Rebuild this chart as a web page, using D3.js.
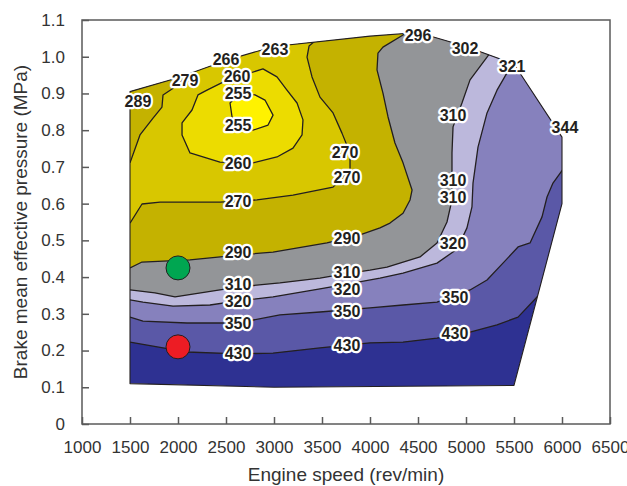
<!DOCTYPE html>
<html><head><meta charset="utf-8">
<script src="https://cdn.jsdelivr.net/npm/d3@7/dist/d3.min.js"></script>
<style>body{margin:0;background:#fff}svg{display:block}</style>
</head><body><svg id="c" width="627" height="486"></svg>
<script>
// ---- data ----
const xTicks = [1000,1500,2000,2500,3000,3500,4000,4500,5000,5500,6000,6500];
const yTicks = [0,0.1,0.2,0.3,0.4,0.5,0.6,0.7,0.8,0.9,1.0,1.1];
const yTickLabels = ["0","0.1","0.2","0.3","0.4","0.5","0.6","0.7","0.8","0.9","1.0","1.1"];

// operating envelope (engine speed rev/min, BMEP MPa)
const envelope = [[1500,0.905],[2000,0.943],[2500,0.99],[3000,1.028],[4000,1.056],[4500,1.066],[5000,1.028],[5500,0.98],[6000,0.781],[6000,0.6],[5500,0.105],[3000,0.1],[1500,0.11]];

// BSFC contour lines (g/kWh)
const c430 = [[1500,0.223],[1844,0.207],[2094,0.196],[2625,0.191],[2990,0.193],[3479,0.207],[4000,0.221],[4344,0.223],[4698,0.234],[5042,0.25],[5323,0.27],[5542,0.291],[5745,0.347],[5780,0.352]];
const c350 = [[1500,0.291],[1635,0.28],[2094,0.275],[2625,0.275],[3062,0.297],[3479,0.305],[4000,0.316],[4344,0.324],[4698,0.332],[5042,0.365],[5219,0.392],[5385,0.438],[5542,0.482],[5667,0.493],[5792,0.564],[5844,0.618],[5906,0.656],[6020,0.697]];
const c320 = [[1500,0.338],[1635,0.332],[1948,0.321],[2333,0.324],[2625,0.335],[2990,0.346],[3479,0.368],[3760,0.381],[4104,0.397],[4344,0.411],[4698,0.438],[4906,0.476],[5010,0.534],[5062,0.591],[5073,0.656],[5125,0.754],[5219,0.847],[5323,0.909],[5427,0.956],[5465,0.995]];
const c310 = [[1500,0.365],[1760,0.357],[1969,0.346],[2437,0.365],[2625,0.373],[3062,0.384],[3479,0.397],[3719,0.408],[4000,0.419],[4177,0.427],[4521,0.455],[4698,0.493],[4802,0.55],[4854,0.61],[4854,0.672],[4854,0.738],[4865,0.809],[4958,0.874],[5042,0.937],[5250,1.01],[5275,1.022]];
const c290 = [[1500,0.425],[1625,0.441],[2125,0.447],[2625,0.46],[2990,0.468],[3552,0.493],[3896,0.515],[4104,0.534],[4208,0.547],[4344,0.574],[4417,0.61],[4438,0.637],[4344,0.711],[4260,0.765],[4188,0.836],[4135,0.901],[4073,0.964],[4083,1.01],[4135,1.026],[4344,1.059],[4375,1.072]];
const c270main = [[1500,0.547],[1625,0.599],[1813,0.604],[2437,0.604],[2823,0.61],[3198,0.623],[3615,0.645],[3792,0.692],[3792,0.738],[3708,0.792],[3615,0.847],[3479,0.89],[3396,0.945],[3344,0.999],[3365,1.029],[3460,1.05]];
const c270corner = [[1500,0.711],[1604,0.787],[1740,0.833],[1833,0.863],[1844,0.896],[1938,0.912],[2210,0.975]];
const c260 = [[2625,0.945],[2885,0.967],[3031,0.945],[3135,0.909],[3240,0.874],[3302,0.828],[3292,0.787],[3198,0.751],[3031,0.727],[2781,0.711],[2625,0.711],[2437,0.713],[2125,0.738],[2042,0.787],[2042,0.82],[2146,0.855],[2208,0.896],[2302,0.909],[2469,0.931]];
const c255 = [[2542,0.874],[2646,0.901],[2802,0.896],[2906,0.882],[2990,0.841],[2938,0.814],[2781,0.80],[2646,0.806],[2563,0.836]];

// contour labels: [speed, bmep, text]
const lineLabels = [
  [2625,0.901,"255"],[2625,0.814,"255"],
  [2615,0.947,"260"],[2625,0.711,"260"],
  [2625,0.607,"270"],[3740,0.741,"270"],[3760,0.672,"270"],
  [2625,0.468,"290"],[3760,0.506,"290"],
  [2625,0.381,"310"],[3760,0.414,"310"],[4865,0.841,"310"],[4865,0.664,"310"],[4865,0.618,"310"],
  [2625,0.334,"320"],[3760,0.368,"320"],[4865,0.493,"320"],
  [2625,0.275,"350"],[3760,0.308,"350"],[4885,0.346,"350"],
  [2625,0.193,"430"],[3760,0.215,"430"],[4885,0.248,"430"]
];
// full-load values along the envelope
const edgeLabels = [
  [1583,0.879,"289"],[2073,0.937,"279"],[2500,0.994,"266"],[3010,1.021,"263"],
  [4500,1.059,"296"],[4990,1.024,"302"],[5479,0.975,"321"],[6031,0.809,"344"]
];
// marked operating points
const points = [[2000,0.425,"#00a651"],[2000,0.21,"#ed1c24"]];

// ---- drawing ----
const FONT = "Liberation Sans, Arial, Helvetica, sans-serif";
const svg = d3.select("#c");
const x = d3.scaleLinear().domain([1000,6500]).range([82,610]);
const y = d3.scaleLinear().domain([0,1.1]).range([424,20]);
const line = d3.line().x(d=>x(d[0])).y(d=>y(d[1]));
const TOP = 1.6, LEFT = 1000, RIGHT = 6700;

svg.append("defs").append("clipPath").attr("id","env")
  .append("path").attr("d", line(envelope)+"Z");

// region on the low-consumption side of a contour line
function regionAbove(c){
  const last = c[c.length-1];
  return [[LEFT,c[0][1]], ...c, [RIGHT,last[1]], [RIGHT,TOP], [LEFT,TOP]];
}

const fills = svg.append("g").attr("clip-path","url(#env)");
fills.append("path").attr("d", line(envelope)+"Z").attr("fill","#2e3192");
const regions = [
  [regionAbove(c430), "#5a58a7"],
  [regionAbove(c350), "#8681bd"],
  [regionAbove(c320), "#bcb8dc"],
  [regionAbove(c310), "#939598"],
  [regionAbove(c290), "#c4b200"],
  [[[LEFT,c270main[0][1]], ...c270main, [c270main[c270main.length-1][0],TOP],
    [c270corner[c270corner.length-1][0],TOP], ...c270corner.slice().reverse(), [LEFT,c270corner[0][1]]], "#d8c700"],
  [c260, "#ecdc00"],
  [c255, "#fff200"]
];
regions.forEach(([poly,col]) => fills.append("path").attr("d", line(poly)+"Z").attr("fill", col));

const strokes = svg.append("g").attr("clip-path","url(#env)")
  .attr("fill","none").attr("stroke","#231f20").attr("stroke-width",1.3).attr("stroke-linejoin","round");
[c430,c350,c320,c310,c290,c270main,c270corner].forEach(c => strokes.append("path").attr("d", line(c)));
[c260,c255].forEach(c => strokes.append("path").attr("d", line(c)+"Z"));

svg.append("path").attr("d", line(envelope)+"Z").attr("fill","none")
  .attr("stroke","#231f20").attr("stroke-width",1.1).attr("stroke-linejoin","round");

// operating points
svg.append("g").selectAll("circle").data(points).join("circle")
  .attr("cx", d=>x(d[0])).attr("cy", d=>y(d[1])).attr("r", 12)
  .attr("fill", d=>d[2]).attr("stroke","#231f20").attr("stroke-width",1);

// labels
const lab = svg.append("g").attr("font-family",FONT)
  .attr("font-weight","bold").attr("font-size",16).attr("text-anchor","middle");
lab.selectAll("text").data(lineLabels.concat(edgeLabels)).join("text")
  .attr("x", d=>x(d[0])).attr("y", d=>y(d[1])).attr("dy","0.36em")
  .attr("fill","#231f20").attr("stroke","#fff").attr("stroke-width",4.5)
  .attr("stroke-linejoin","round").attr("paint-order","stroke")
  .text(d=>d[2]);

// frame & axes
svg.append("rect").attr("x",82).attr("y",20).attr("width",528).attr("height",404)
  .attr("fill","none").attr("stroke","#5a5a5a").attr("stroke-width",1.5);

const gx = svg.append("g").attr("transform","translate(0,424)")
  .call(d3.axisBottom(x).tickValues(xTicks).tickSize(-7).tickPadding(17).tickFormat(d3.format("d")));
const gy = svg.append("g").attr("transform","translate(82,0)")
  .call(d3.axisLeft(y).tickValues(yTicks).tickSize(-7).tickPadding(17).tickFormat((d,i)=>yTickLabels[i]));
[gx,gy].forEach(g=>{
  g.select(".domain").remove();
  g.selectAll(".tick line").attr("stroke","#5a5a5a").attr("stroke-width",1.5);
  g.selectAll(".tick text").attr("fill","#333").attr("font-size",17).attr("font-family",FONT);
});

svg.append("text").attr("x",346).attr("y",481).attr("text-anchor","middle")
  .attr("font-family",FONT).attr("font-size",19).attr("fill","#333")
  .text("Engine speed (rev/min)");
svg.append("text").attr("transform","translate(27,222) rotate(-90)").attr("text-anchor","middle")
  .attr("font-family",FONT).attr("font-size",19).attr("fill","#333")
  .text("Brake mean effective pressure (MPa)");
</script></body></html>
